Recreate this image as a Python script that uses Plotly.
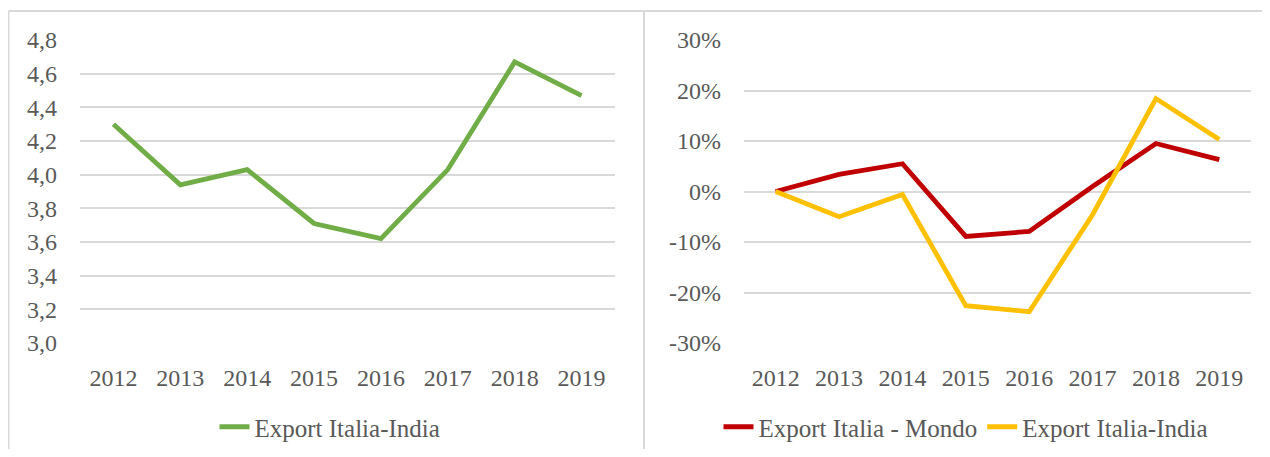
import plotly.graph_objects as go

years = ["2012", "2013", "2014", "2015", "2016", "2017", "2018", "2019"]
india_level = [4.30, 3.94, 4.03, 3.71, 3.62, 4.03, 4.67, 4.47]
mondo_growth = [0.0, 0.034, 0.055, -0.089, -0.079, 0.010, 0.095, 0.063]
india_growth = [0.0, -0.050, -0.006, -0.226, -0.238, -0.046, 0.184, 0.103]
left_ticks = [3.0, 3.2, 3.4, 3.6, 3.8, 4.0, 4.2, 4.4, 4.6, 4.8]
right_ticks = [-0.3, -0.2, -0.1, 0.0, 0.1, 0.2, 0.3]
right_ticktext = ["-30%", "-20%", "-10%", "0%", "10%", "20%", "30%"]

# page has an 8px body margin; work in figure coordinates (ref - 8)
W, H = 1254, 441
ML, MR, MT, MB = 72, 11, 32, 106
PW, PH = W - ML - MR, H - MT - MB


def px(fx):
    return (fx - ML) / PW


def py(fy):
    return (MT + PH - fy) / PH


FONT = "Liberation Serif"
TXT = "#595959"
GRID = "#d9d9d9"
FS = 24

fig = go.Figure()
fig.add_trace(go.Scatter(x=years, y=india_level, mode="lines", name="Export Italia-India",
                         line=dict(color="#70AD47", width=4.8), xaxis="x", yaxis="y",
                         legend="legend"))
fig.add_trace(go.Scatter(x=years, y=mondo_growth, mode="lines", name="Export Italia - Mondo",
                         line=dict(color="#C00000", width=4.8), xaxis="x2", yaxis="y2",
                         legend="legend2"))
fig.add_trace(go.Scatter(x=years, y=india_growth, mode="lines", name="Export Italia-India",
                         line=dict(color="#FFC000", width=4.8), xaxis="x2", yaxis="y2",
                         legend="legend2"))

tickfont = dict(family=FONT, size=FS, color=TXT)
common_x = dict(type="category", showgrid=False, zeroline=False, showline=False,
                ticks="", tickfont=tickfont, ticklabelstandoff=18, range=[-0.5, 7.5])
common_y = dict(showgrid=True, gridcolor=GRID, gridwidth=1.5, zeroline=False,
                showline=False, ticks="", tickfont=tickfont, ticklabelstandoff=22)
legfont = dict(family=FONT, size=25, color=TXT)

fig.update_layout(
    width=W, height=H,
    margin=dict(l=ML, r=MR, t=MT, b=MB),
    paper_bgcolor="white", plot_bgcolor="white",
    separators=",.",
    xaxis=dict(domain=[0, px(607)], anchor="y", **common_x),
    yaxis=dict(domain=[0, 1], anchor="x", range=[3.0, 4.8], tickvals=left_ticks,
               tickformat=".1f", **common_y),
    xaxis2=dict(domain=[px(736), 1], anchor="y2", **common_x),
    yaxis2=dict(domain=[0, 1], anchor="x2", range=[-0.3, 0.3], tickvals=right_ticks,
                ticktext=right_ticktext, **common_y),
    legend=dict(orientation="h", xref="container", yref="container",
                x=322 / W, xanchor="center", y=1 - 419 / H, yanchor="middle",
                font=legfont, bgcolor="rgba(0,0,0,0)"),
    legend2=dict(orientation="h", xref="container", yref="container",
                 x=958 / W, xanchor="center", y=1 - 419 / H, yanchor="middle",
                 font=legfont, bgcolor="rgba(0,0,0,0)"),
    showlegend=True,
    shapes=[
        dict(type="line", xref="paper", yref="paper", x0=px(0.5), x1=px(W), y0=py(3), y1=py(3),
             line=dict(color=GRID, width=2)),
        dict(type="line", xref="paper", yref="paper", x0=px(0.5), x1=px(0.5), y0=py(H), y1=py(3),
             line=dict(color=GRID, width=2)),
        dict(type="line", xref="paper", yref="paper", x0=px(636), x1=px(636), y0=py(H), y1=py(3),
             line=dict(color=GRID, width=2)),
    ],
)

fig.write_html("out.html")
